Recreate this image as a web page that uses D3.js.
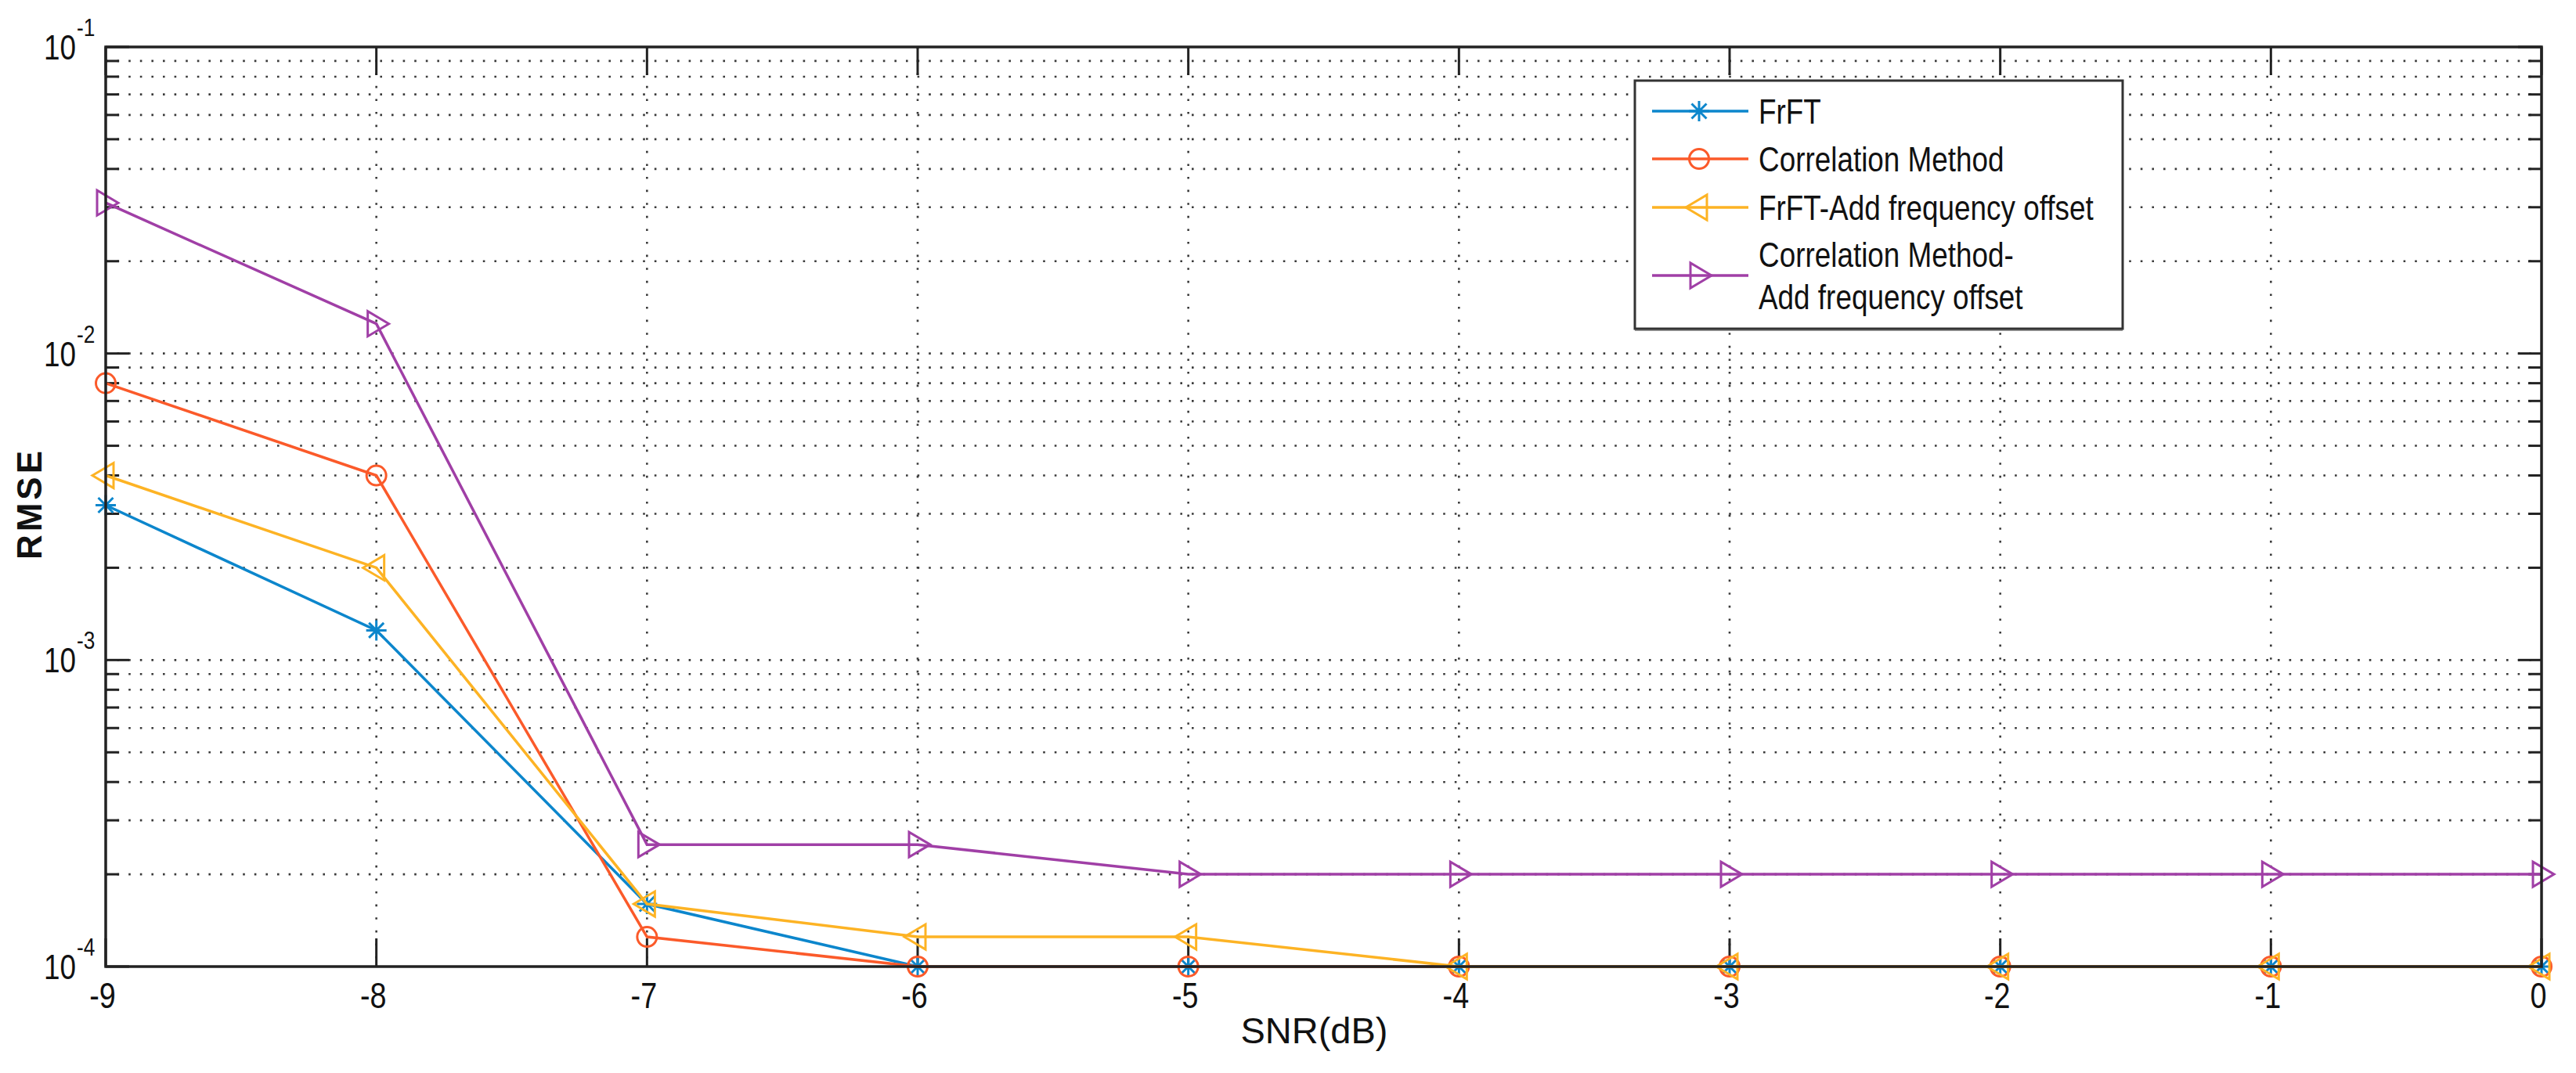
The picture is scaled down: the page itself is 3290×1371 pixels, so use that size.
<!DOCTYPE html>
<html>
<head>
<meta charset="utf-8">
<script src="https://cdn.jsdelivr.net/npm/d3@7"></script>
<style>
  body { margin: 0; background: #fff; }
  svg { display: block; }
</style>
</head>
<body>
<div id="chart"></div>
<script>
// data
const snr = [-9, -8, -7, -6, -5, -4, -3, -2, -1, 0]
const frft = [3.2e-3, 1.25e-3, 1.6e-4, 1e-4, 1e-4, 1e-4, 1e-4, 1e-4, 1e-4, 1e-4]
const corrMethod = [8e-3, 4e-3, 1.25e-4, 1e-4, 1e-4, 1e-4, 1e-4, 1e-4, 1e-4, 1e-4]
const frftAdd = [4e-3, 2e-3, 1.6e-4, 1.25e-4, 1.25e-4, 1e-4, 1e-4, 1e-4, 1e-4, 1e-4]
const corrAdd = [3.1e-2, 1.25e-2, 2.5e-4, 2.5e-4, 2e-4, 2e-4, 2e-4, 2e-4, 2e-4, 2e-4]

const seriesNames = [["FrFT"], ["Correlation Method"], ["FrFT-Add frequency offset"], ["Correlation Method-", "Add frequency offset"]]
const seriesValues = [frft, corrMethod, frftAdd, corrAdd]
const seriesColors = ["#0c86cc", "#fb5a2a", "#fdb324", "#a03fa6"]
const seriesMarkers = ["asterisk", "circle", "triLeft", "triRight"]

const yMajor = [1e-4, 1e-3, 1e-2, 1e-1]
const yMajorExp = ["-4", "-3", "-2", "-1"]

const width = 3290
const height = 1371
const plot = { left: 135, right: 3246, top: 60, bottom: 1235 }
const narrow = 0.82

const svg = d3.select("#chart").append("svg")
  .attr("width", width)
  .attr("height", height)
  .attr("viewBox", [0, 0, width, height])

svg.append("rect").attr("width", width).attr("height", height).attr("fill", "#fff")

const x = d3.scaleLinear().domain([-9, 0]).range([plot.left, plot.right])
const y = d3.scaleLog().domain([1e-4, 1e-1]).range([plot.bottom, plot.top])

// log grid values 2..9 in each decade plus majors
const yGrid = []
for (let e = -4; e < -1; e++) {
  for (let m = 1; m <= 9; m++) yGrid.push(m * Math.pow(10, e))
}
const yMinor = yGrid.filter(v => !yMajor.some(m => Math.abs(m - v) / m < 1e-9))

const grid = svg.append("g").attr("stroke", "#3a3a3a").attr("stroke-width", 2.6)
grid.selectAll(".hgrid").data(yGrid.filter(v => v > 1e-4))
  .enter().append("line")
  .attr("x1", plot.left).attr("x2", plot.right)
  .attr("y1", d => y(d)).attr("y2", d => y(d))
  .attr("stroke-dasharray", "2.6 12")
grid.selectAll(".vgrid").data(snr.filter(d => d > -9 && d < 0))
  .enter().append("line")
  .attr("x1", d => x(d)).attr("x2", d => x(d))
  .attr("y1", plot.top).attr("y2", plot.bottom)
  .attr("stroke-dasharray", "2.6 14")

// ticks on all four sides
const ticks = svg.append("g").attr("stroke", "#222").attr("stroke-width", 3)
ticks.selectAll(".xb").data(snr).enter().append("line")
  .attr("x1", d => x(d)).attr("x2", d => x(d))
  .attr("y1", plot.bottom).attr("y2", plot.bottom - 36)
ticks.selectAll(".xt").data(snr).enter().append("line")
  .attr("x1", d => x(d)).attr("x2", d => x(d))
  .attr("y1", plot.top).attr("y2", plot.top + 36)
const yTickData = yMajor.map(v => ({ v, len: 30 })).concat(yMinor.map(v => ({ v, len: 17 })))
ticks.selectAll(".yl").data(yTickData).enter().append("line")
  .attr("x1", plot.left).attr("x2", d => plot.left + d.len)
  .attr("y1", d => y(d.v)).attr("y2", d => y(d.v))
ticks.selectAll(".yr").data(yTickData).enter().append("line")
  .attr("x1", plot.right).attr("x2", d => plot.right - d.len)
  .attr("y1", d => y(d.v)).attr("y2", d => y(d.v))

// marker shapes
function drawMarker(g, type, color) {
  g.attr("fill", "none").attr("stroke", color).attr("stroke-width", 3)
  if (type === "asterisk") {
    const r = 13, q = 9.5
    g.append("path").attr("d", `M${-r},0H${r}M0,${-r}V${r}M${-q},${-q}L${q},${q}M${-q},${q}L${q},${-q}`)
  } else if (type === "circle") {
    g.append("circle").attr("r", 12.5)
  } else if (type === "triLeft") {
    g.append("path").attr("d", "M-17,0L10,-16L10,16Z")
  } else if (type === "triRight") {
    g.append("path").attr("d", "M16,0L-11,-16L-11,16Z")
  }
}

const line = d3.line().x(d => x(d[0])).y(d => y(d[1]))

seriesValues.forEach((vals, i) => {
  const pts = snr.map((s, j) => [s, vals[j]])
  const g = svg.append("g")
  g.append("path").datum(pts)
    .attr("d", line)
    .attr("fill", "none")
    .attr("stroke", seriesColors[i])
    .attr("stroke-width", 3.5)
  g.selectAll(".m").data(pts).enter().append("g")
    .attr("transform", d => `translate(${x(d[0])},${y(d[1])})`)
    .each(function () { drawMarker(d3.select(this), seriesMarkers[i], seriesColors[i]) })
})

// axes box on top
svg.append("rect")
  .attr("x", plot.left).attr("y", plot.top)
  .attr("width", plot.right - plot.left).attr("height", plot.bottom - plot.top)
  .attr("fill", "none").attr("stroke", "#222").attr("stroke-width", 3.5)

const font = "'Liberation Sans', Arial, sans-serif"

// x tick labels
svg.selectAll(".xlab").data(snr).enter().append("text")
  .attr("transform", d => `translate(${x(d) - 4},${plot.bottom + 53}) scale(${narrow},1)`)
  .attr("text-anchor", "middle")
  .attr("font-family", font).attr("font-size", 46).attr("fill", "#111")
  .text(d => d)

// y tick labels 10^n
const ylab = svg.selectAll(".ylab").data(yMajor).enter().append("g")
ylab.append("text")
  .attr("transform", d => `translate(97,${y(d) + 16}) scale(${narrow},1)`)
  .attr("text-anchor", "end")
  .attr("font-family", font).attr("font-size", 45).attr("fill", "#111")
  .text("10")
ylab.append("text")
  .attr("transform", d => `translate(98,${y(d) - 14}) scale(${narrow},1)`)
  .attr("text-anchor", "start")
  .attr("font-family", font).attr("font-size", 32).attr("fill", "#111")
  .text((d, i) => yMajorExp[i])

// axis titles
svg.append("text")
  .attr("x", (plot.left + plot.right) / 2 - 12).attr("y", 1333)
  .attr("text-anchor", "middle")
  .attr("font-family", font).attr("font-size", 47).attr("fill", "#111")
  .text("SNR(dB)")
svg.append("text")
  .attr("transform", `translate(53,${(plot.top + plot.bottom) / 2 - 4}) rotate(-90)`)
  .attr("text-anchor", "middle")
  .attr("font-family", font).attr("font-size", 44).attr("font-weight", "bold")
  .attr("letter-spacing", 4).attr("fill", "#111")
  .text("RMSE")

// legend
const legend = { x: 2088, y: 103, w: 623, h: 317 }
const lg = svg.append("g")
lg.append("rect")
  .attr("x", legend.x).attr("y", legend.y + 3)
  .attr("width", legend.w).attr("height", legend.h)
  .attr("fill", "#9a9a9a")
lg.append("rect")
  .attr("x", legend.x).attr("y", legend.y)
  .attr("width", legend.w).attr("height", legend.h)
  .attr("fill", "#fff").attr("stroke", "#333").attr("stroke-width", 3)

const rowY = [142, 203, 265, 352]
seriesNames.forEach((names, i) => {
  const cy = rowY[i]
  lg.append("line")
    .attr("x1", 2110).attr("x2", 2233)
    .attr("y1", cy).attr("y2", cy)
    .attr("stroke", seriesColors[i]).attr("stroke-width", 3.5)
  drawMarker(lg.append("g").attr("transform", `translate(2170,${cy})`), seriesMarkers[i], seriesColors[i])
  const offsets = names.length === 1 ? [0] : [-27, 27]
  names.forEach((name, k) => {
    lg.append("text")
      .attr("transform", `translate(2246,${cy + offsets[k] + 16}) scale(${narrow},1)`)
      .attr("font-family", font).attr("font-size", 45).attr("fill", "#111")
      .text(name)
  })
})
</script>
</body>
</html>
